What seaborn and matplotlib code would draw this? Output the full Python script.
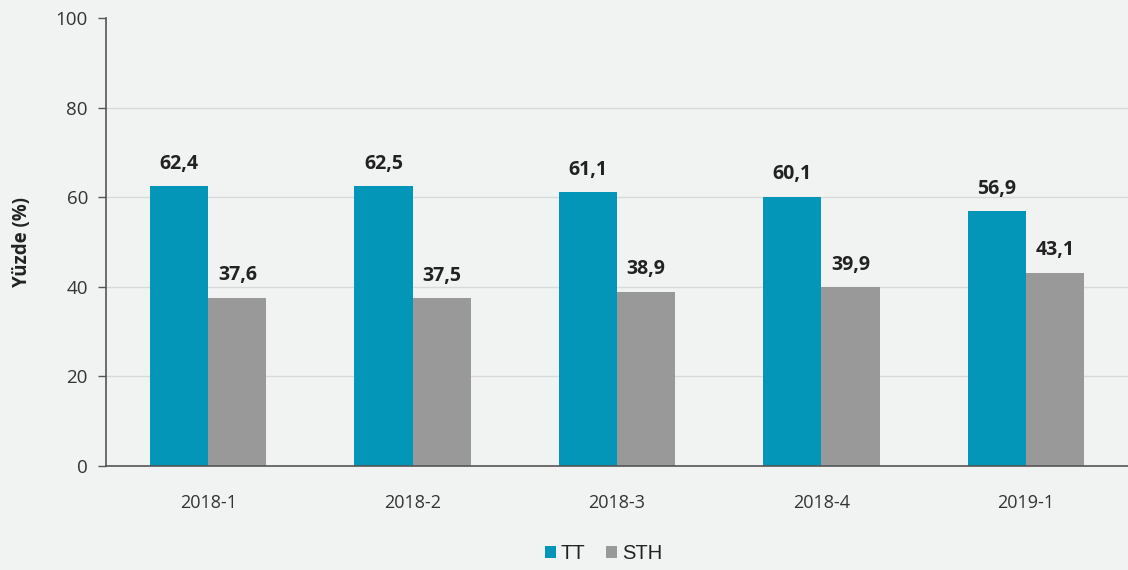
import matplotlib
matplotlib.use("Agg")
import matplotlib.pyplot as plt
import seaborn as sns
import pandas as pd
from matplotlib.patches import Patch

categories = ["2018-1", "2018-2", "2018-3", "2018-4", "2019-1"]
tt_values = [62.4, 62.5, 61.1, 60.1, 56.9]
sth_values = [37.6, 37.5, 38.9, 39.9, 43.1]
series_names = ["TT", "STH"]
y_ticks = [0, 20, 40, 60, 80, 100]

df = pd.DataFrame({
    "cat": categories * 2,
    "val": tt_values + sth_values,
    "series": [series_names[0]] * len(categories) + [series_names[1]] * len(categories),
})

sns.set_theme(style="white")
plt.rcParams["font.family"] = ["Open Sans", "DejaVu Sans"]

bg = "#f1f2f2"
fig = plt.figure(figsize=(11.28, 5.70), dpi=100, facecolor=bg)
ax = fig.add_axes([106 / 1128, 1 - 466 / 570, 1 - 106 / 1128, 448 / 570])
ax.set_facecolor(bg)

palette = {"TT": "#0396b8", "STH": "#999999"}
sns.barplot(data=df, x="cat", y="val", hue="series", palette=palette,
            width=0.57, saturation=1, ax=ax, legend=False, linewidth=0)

ax.set_ylim(0, 100)
ax.set_xlim(-0.5, len(categories) - 0.5)
ax.set_yticks(y_ticks)
ax.set_yticklabels([str(t) for t in y_ticks], fontsize=13.5, color="#333333")
ax.set_xticks(range(len(categories)))
ax.set_xticklabels(categories, fontsize=13, color="#333333")
ax.tick_params(axis="x", length=0, pad=20)
ax.set_xticks([i - 0.5 for i in range(len(categories) + 1)], minor=True)
ax.tick_params(axis="x", which="minor", length=6, color="#555555", width=1, direction="out")
ax.tick_params(axis="y", length=6, color="#555555", width=1, direction="out", left=True, pad=7)

ax.yaxis.grid(True, color="#d9d9d9", linewidth=1)
gl = ax.get_ygridlines()
gl[-1].set_visible(False)
gl[0].set_visible(False)
ax.set_axisbelow(True)

for s in ["top", "right"]:
    ax.spines[s].set_visible(False)
ax.spines["left"].set_color("#555555")
ax.spines["bottom"].set_color("#555555")
ax.spines["left"].set_linewidth(1.2)
ax.spines["bottom"].set_linewidth(1.2)

ax.set_xlabel("")
ax.set_ylabel("Yüzde (%)", fontsize=13.5, fontweight="bold", color="#222222", labelpad=17)

for cont in ax.containers:
    for bar in cont:
        h = bar.get_height()
        ax.annotate(f"{h:.1f}".replace(".", ","),
                    (bar.get_x() + bar.get_width() / 2, h),
                    xytext=(0, 9), textcoords="offset points",
                    ha="center", va="bottom", fontsize=14, fontweight="bold", color="#222222")

handles = [Patch(facecolor=palette[n], edgecolor="none") for n in series_names]
fig.legend(handles, series_names, loc="lower center", bbox_to_anchor=(0.535, -0.02),
           ncol=2, frameon=False, handlelength=0.55, handleheight=0.55,
           handletextpad=0.25, columnspacing=1.0, labelcolor="#222222",
           prop={"family": ["Liberation Sans", "DejaVu Sans"], "size": 14.5})

fig.savefig("out.png", dpi=100, facecolor=bg)
